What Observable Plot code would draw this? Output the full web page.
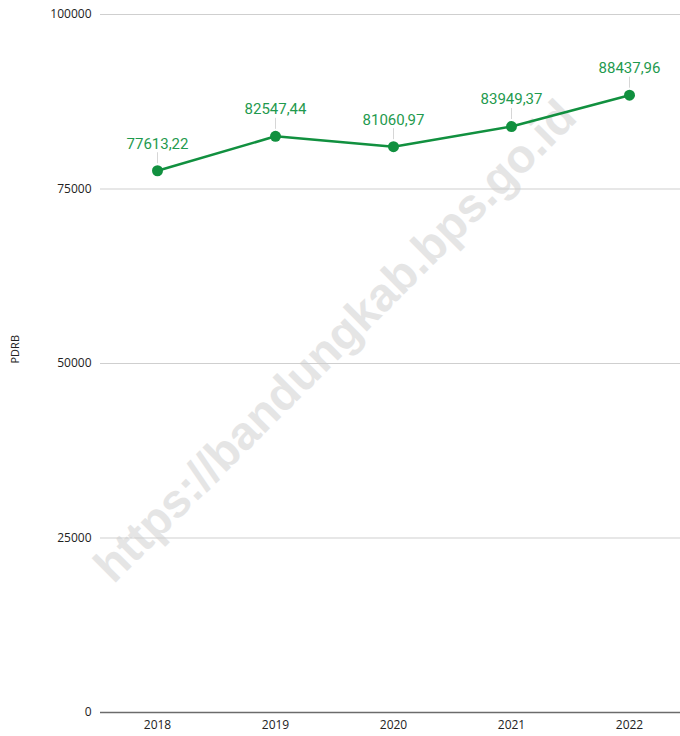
<!DOCTYPE html>
<html>
<head>
<meta charset="utf-8">
<script src="https://cdn.jsdelivr.net/npm/d3@7"></script>
<script src="https://cdn.jsdelivr.net/npm/@observablehq/plot@0.6"></script>
<style>
  html, body { margin: 0; padding: 0; background: #fff; }
  #chart { position: relative; width: 680px; height: 736px; overflow: hidden; }
</style>
</head>
<body>
<div id="chart"></div>
<script>
const years = ["2018", "2019", "2020", "2021", "2022"];
const pdrb = [77613.22, 82547.44, 81060.97, 83949.37, 88437.96];
const labels = ["77613,22", "82547,44", "81060,97", "83949,37", "88437,96"];
const yTicks = [0, 25000, 50000, 75000, 100000];

const data = years.map((y, i) => ({year: y, v: pdrb[i], label: labels[i]}));

const green = "#11903f";
const textGreen = "#1f9a4e";

const plot = Plot.plot({
  width: 680,
  height: 736,
  marginTop: 14,
  marginBottom: 24,
  marginLeft: 100,
  marginRight: 0,
  style: {fontFamily: "'Open Sans', sans-serif", fontSize: "12px", color: "#222", background: "#fff"},
  x: {type: "point", domain: years, range: [157, 629], padding: 0, label: null, tickSize: 0, tickPadding: 6},
  y: {domain: [0, 100000], ticks: yTicks, label: null, tickSize: 0, tickPadding: 9, tickFormat: d => String(d)},
  marks: [
    Plot.text(["https://bandungkab.bps.go.id"], {
      frameAnchor: "middle", dx: -55, dy: -22, rotate: -45,
      fontSize: 47, fontWeight: "bold", fill: "#e5e5e5",
      fontFamily: "'Liberation Sans', Arial, sans-serif"
    }),
    Plot.gridY(yTicks.filter(d => d > 0), {stroke: "#cfcfcf", strokeOpacity: 1, strokeWidth: 1}),
    Plot.ruleY([0], {stroke: "#6b6b6b", strokeWidth: 1.5}),
    Plot.axisY({ticks: yTicks, tickSize: 0, tickPadding: 9, tickFormat: d => String(d), label: null, fontSize: 12}),
    Plot.axisX({tickSize: 0, tickPadding: 8, label: null, fontSize: 12}),
    Plot.ruleX(data, {x: "year", y1: "v", y2: "v", insetTop: -7, insetBottom: 18, stroke: "#d6d6d6", strokeWidth: 1}),
    Plot.line(data, {x: "year", y: "v", stroke: green, strokeWidth: 2.5}),
    Plot.dot(data, {x: "year", y: "v", r: 5.5, fill: green, stroke: "none"}),
    Plot.text(data, {x: "year", y: "v", text: "label", dy: -27, fill: textGreen, fontSize: 15, fontFamily: "Roboto, sans-serif"}),
    Plot.text(["PDRB"], {frameAnchor: "left", dx: -85, rotate: -90, fontSize: 11, fill: "#222"})
  ]
});

document.getElementById("chart").appendChild(plot);
</script>
</body>
</html>
